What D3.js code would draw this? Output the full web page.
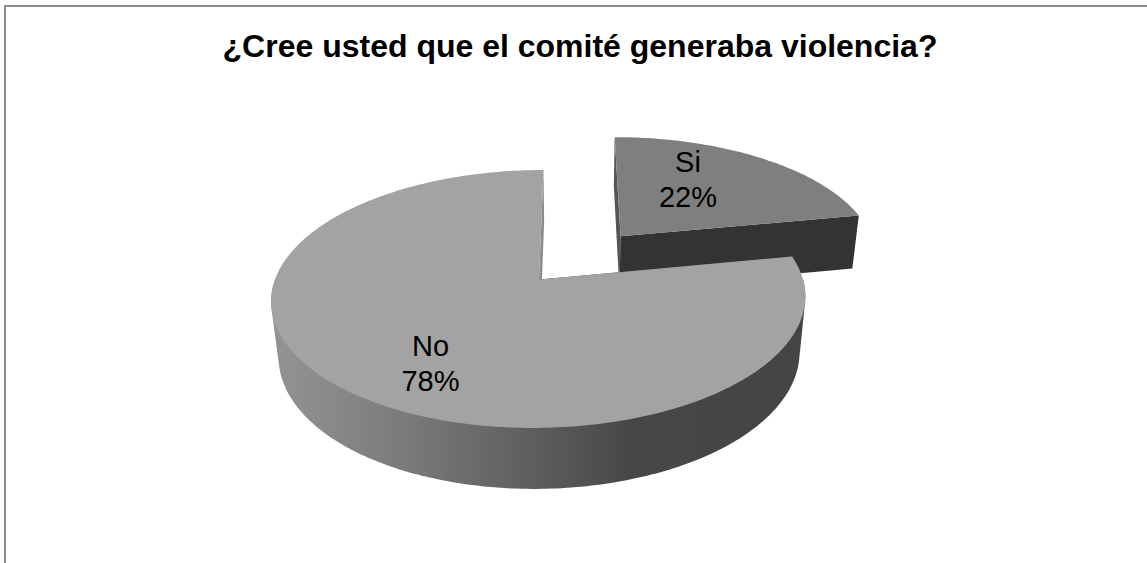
<!DOCTYPE html>
<html><head><meta charset="utf-8">
<script src="https://cdn.jsdelivr.net/npm/d3@7/dist/d3.min.js"></script>
<style>html,body{margin:0;padding:0;background:#fff}svg{display:block}text{font-family:"Liberation Sans",Arial,sans-serif;fill:#000}</style>
</head><body><svg id="c" width="1147" height="563"></svg>
<script>
const categories=["Si","No"];
const values=[22,78];
const labels=["22%","78%"];
const titleText="¿Cree usted que el comité generaba violencia?";
const svg=d3.select("#c");
const W=1147,H=563;
// perspective view of the disc
const vx=573.5, ay=279.5, rx=264, ry=126, x0=34.5, k=0.151, h=57, m=0.025, explodeX=0.5, explodeY=0.47;
function proj(X,Y,Z){const w=1-k*Y+m*Z;return [vx+(rx*X-x0)/w, ay+(ry*Y+h*Z)/w];}
const pie=d3.pie().sort(null)(values);
const line=d3.line();
function arcPts(a0,a1,off,Z){const n=Math.max(8,Math.ceil((a1-a0)*60));return d3.range(n+1).map(i=>{const a=a0+(a1-a0)*i/n;return proj(off[0]+Math.sin(a),off[1]-Math.cos(a),Z);});}
const defs=svg.append("defs");
const wallStops=[[0,"#929292"],[0.25,"#797979"],[0.5,"#5c5c5c"],[0.68,"#474747"],[1,"#444444"]];
const g=defs.append("linearGradient").attr("id","wall").attr("gradientUnits","userSpaceOnUse")
 .attr("x1",proj(-1,0,1)[0]).attr("x2",proj(1,0,1)[0]).attr("y1",0).attr("y2",0);
wallStops.forEach(s=>g.append("stop").attr("offset",s[0]).attr("stop-color",s[1]));
// frame
svg.append("path").attr("d",line([[5,H],[5,6],[W,6]])).attr("fill","none").attr("stroke","#8a8a8a").attr("stroke-width",2);
svg.append("text").attr("x",580).attr("y",57).attr("text-anchor","middle").attr("font-size",32).attr("font-weight","bold").text(titleText);
const faces=[{top:"#7f7f7f",cut0:"#555555",cut1:"#333333",wall:"#333333"},{top:"#a3a3a3",cut0:"#444444",cut1:"#8c8c8c",wall:"url(#wall)"}];
const frontFrom=Math.PI/2, frontTo=Math.PI*1.5;
const layer=svg.append("g");
pie.forEach((d,i)=>{
 const f=faces[i], mid=(d.startAngle+d.endAngle)/2;
 const off=i===0?[explodeX*Math.sin(mid),-explodeY*Math.cos(mid)]:[0,0];
 const top=arcPts(d.startAngle,d.endAngle,off,0), bot=arcPts(d.startAngle,d.endAngle,off,1);
 const A=proj(off[0],off[1],0), B=proj(off[0],off[1],1);
 // cut faces
 layer.append("path").attr("d",line([A,top[0],bot[0],B])+"Z").attr("fill",f.cut0);
 layer.append("path").attr("d",line([A,top[top.length-1],bot[bot.length-1],B])+"Z").attr("fill",f.cut1);
 // visible outer wall: hull of the camera-facing part of both rims
 const a0=Math.max(d.startAngle,frontFrom), a1=Math.min(d.endAngle,frontTo);
 if(a1>a0){
  const hull=d3.polygonHull(arcPts(a0,a1,off,0).concat(arcPts(a0,a1,off,1)));
  layer.append("path").attr("d",line(hull)+"Z").attr("fill",f.wall);
 }
 // top
 layer.append("path").attr("d",line([A].concat(top))+"Z").attr("fill",f.top);
});
const labelPos=[[688,172],[430.5,356]];
categories.forEach((c,i)=>{
 const t=svg.append("text").attr("text-anchor","middle").attr("font-size",29);
 t.append("tspan").attr("x",labelPos[i][0]).attr("y",labelPos[i][1]).text(c);
 t.append("tspan").attr("x",labelPos[i][0]).attr("y",labelPos[i][1]+35).text(labels[i]);
});
</script></body></html>
